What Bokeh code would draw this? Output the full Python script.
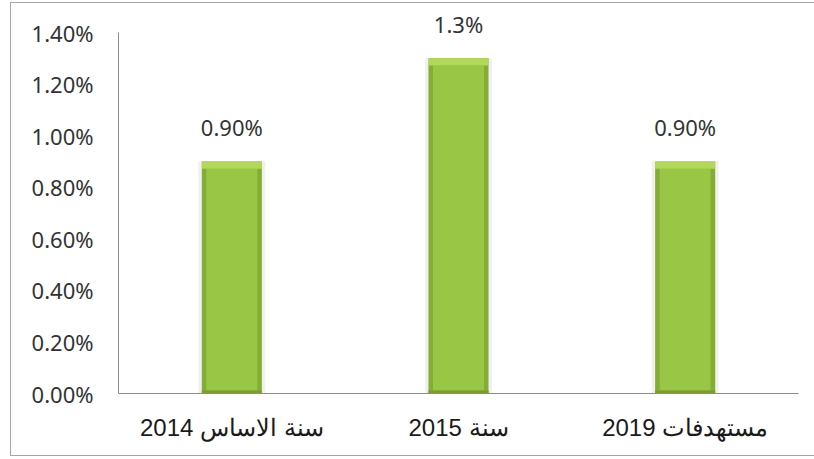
from bokeh.plotting import figure
from bokeh.models import ColumnDataSource, FactorRange, Range1d, FixedTicker, PrintfTickFormatter, LabelSet
from bokeh.core.properties import value
from bokeh.embed import file_html
from bokeh.resources import INLINE

# ---- data ----
categories = ["سنة الاساس 2014", "سنة 2015", "مستهدفات 2019"]
values = [0.90, 1.30, 0.90]
value_labels = ["0.90%", "1.3%", "0.90%"]
y_ticks = [0.0, 0.2, 0.4, 0.6, 0.8, 1.0, 1.2, 1.4]

# layout: axis spans 0..1.4 over 361 px; frame extends higher so labels fit
axis_px = 361.0
frame_px = 388.0
y_end = 1.4 * frame_px / axis_px

bevel = 0.028
src = ColumnDataSource(dict(
    cat=categories,
    val=values,
    lab=value_labels,
    bevel_bottom=[v - bevel for v in values],
    inner_top=[v - bevel for v in values],
))

p = figure(
    x_range=FactorRange(factors=categories, range_padding=0),
    y_range=Range1d(0, y_end),
    width=804, height=454,
    margin=(2, 0, 0, 10),
    output_backend="svg", toolbar_location=None,
    min_border_left=107, min_border_right=17, min_border_top=2, min_border_bottom=64,
)
p.styles = {
    "border-left": "1px solid #a6a6a6",
    "border-top": "1px solid #a6a6a6",
    "border-bottom": "1px solid #a6a6a6",
}
p.outline_line_color = None
p.xgrid.grid_line_color = None
p.ygrid.grid_line_color = None

# bars: soft shadow, body, inner highlight, top bevel, bottom band
p.vbar(x="cat", top="val", bottom=0, width=0.295, source=src,
       fill_color="#f0f0f0", line_color=None)
p.vbar(x="cat", top="val", bottom=0, width=0.265, source=src,
       fill_color="#84ad35", line_color=None)
p.vbar(x="cat", top="inner_top", bottom=0.012, width=0.225, source=src,
       fill_color="#99c645", line_color=None)
p.vbar(x="cat", top="val", bottom="bevel_bottom", width=0.265, source=src,
       fill_color="#b2d85a", line_color=None)
p.vbar(x="cat", top=0.012, bottom=0, width=0.265, source=src,
       fill_color="#7d9c30", line_color=None)

labels = LabelSet(x="cat", y="val", text="lab", source=src,
                  text_align="center", text_baseline="middle", y_offset=34,
                  text_font=value("Noto Sans"), text_font_size="22px", text_color="#333333")
p.add_layout(labels)

# y axis
ya = p.yaxis[0]
ya.bounds = (0, 1.4)
ya.ticker = FixedTicker(ticks=y_ticks)
ya.formatter = PrintfTickFormatter(format="%.2f%%")
ya.major_tick_line_color = None
ya.minor_tick_line_color = None
ya.major_tick_out = 0
ya.major_label_standoff = 25
ya.major_label_text_font = "Noto Sans"
ya.major_label_text_font_size = "22px"
ya.major_label_text_color = "#333333"
ya.axis_line_color = "#8c8c8c"

# x axis
xa = p.xaxis[0]
xa.major_tick_line_color = None
xa.minor_tick_line_color = None
xa.major_tick_out = 0
xa.major_label_standoff = 20
xa.major_label_text_font = "Liberation Sans"
xa.major_label_text_font_size = "24px"
xa.major_label_text_color = "#1a1a1a"
xa.axis_line_color = "#8c8c8c"

open("out.html", "w").write(file_html(p, INLINE))
